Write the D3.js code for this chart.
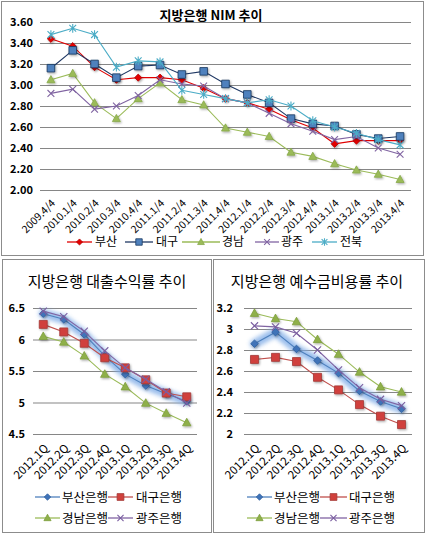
<!DOCTYPE html>
<html><head><meta charset="utf-8">
<script src="https://cdn.jsdelivr.net/npm/d3@7"></script>
<style>
body{margin:0;background:#fff;}
svg{display:block;font-family:"Noto Sans CJK KR","Noto Sans",sans-serif;}
</style></head><body>
<svg id="c" width="427" height="535"></svg>
<script>
// ---------- DATA ----------
const nimCategories = ["2009.4/4","2010.1/4","2010.2/4","2010.3/4","2010.4/4","2011.1/4","2011.2/4","2011.3/4","2011.4/4","2012.1/4","2012.2/4","2012.3/4","2012.4/4","2013.1/4","2013.2/4","2013.3/4","2013.4/4"];
const nimYTicks = [2.0,2.2,2.4,2.6,2.8,3.0,3.2,3.4,3.6];
const nimSeriesNames = ["부산","대구","경남","광주","전북"];
const nimBusan     = [3.44,3.37,3.17,3.05,3.07,3.07,3.05,2.97,2.87,2.83,2.77,2.67,2.59,2.44,2.47,2.47,2.47];
const nimDaegu     = [3.16,3.33,3.20,3.07,3.18,3.19,3.10,3.13,3.01,2.91,2.83,2.68,2.63,2.61,2.53,2.49,2.51];
const nimGyeongnam = [3.05,3.11,2.83,2.68,2.87,3.02,2.86,2.81,2.59,2.55,2.51,2.36,2.32,2.25,2.19,2.15,2.10];
const nimGwangju   = [2.92,2.96,2.77,2.80,2.90,3.05,3.01,2.99,2.87,2.83,2.73,2.63,2.56,2.48,2.51,2.40,2.34];
const nimJeonbuk   = [3.48,3.54,3.48,3.17,3.23,3.22,2.95,2.91,2.87,2.83,2.86,2.80,2.66,2.60,2.54,2.48,2.43];

const qCategories = ["2012.1Q","2012.2Q","2012.3Q","2012.4Q","2013.1Q","2013.2Q","2013.3Q","2013.4Q"];
const bankNames = ["부산은행","대구은행","경남은행","광주은행"];
const loanYTicks = [4.5,5,5.5,6,6.5];
const loanBusan     = [6.41,6.32,6.08,5.74,5.45,5.27,5.14,5.02];
const loanDaegu     = [6.24,6.12,5.94,5.71,5.55,5.36,5.15,5.09];
const loanGyeongnam = [6.05,5.96,5.74,5.45,5.25,4.99,4.83,4.68];
const loanGwangju   = [6.45,6.36,6.13,5.82,5.55,5.37,5.17,4.99];

const depYTicks = [2,2.2,2.4,2.6,2.8,3,3.2];
const depBusan     = [2.86,2.97,2.81,2.70,2.58,2.41,2.31,2.24];
const depDaegu     = [2.71,2.73,2.69,2.54,2.42,2.28,2.17,2.09];
const depGyeongnam = [3.15,3.10,3.07,2.90,2.76,2.59,2.45,2.40];
const depGwangju   = [3.03,3.02,2.96,2.80,2.61,2.44,2.33,2.27];

// ---------- SETUP ----------
const svg = d3.select("#c");
const defs = svg.append("defs");
const sh = defs.append("filter").attr("id","shadow").attr("x","-50%").attr("y","-50%").attr("width","200%").attr("height","200%");
sh.append("feDropShadow").attr("dx",1).attr("dy",1.2).attr("stdDeviation",0.8).attr("flood-color","#000").attr("flood-opacity",0.35);
const gl = defs.append("filter").attr("id","glow").attr("x","-20%").attr("y","-20%").attr("width","140%").attr("height","140%");
gl.append("feGaussianBlur").attr("stdDeviation",2.2);

// frames
svg.append("rect").attr("x",1.5).attr("y",1.5).attr("width",422).attr("height",254).attr("fill","none").attr("stroke","#8c8c8c");
svg.append("rect").attr("x",2.5).attr("y",259.5).attr("width",209).attr("height",273).attr("fill","none").attr("stroke","#8c8c8c");
svg.append("rect").attr("x",213.5).attr("y",259.5).attr("width",211).attr("height",273).attr("fill","none").attr("stroke","#8c8c8c");

function markerPath(type, s){
  if(type==="diamond") return `M0,${-s}L${s},0L0,${s}L${-s},0Z`;
  if(type==="square") return `M${-s},${-s}H${s}V${s}H${-s}Z`;
  if(type==="triangle") return `M0,${-s*1.05}L${s},${s*0.75}L${-s},${s*0.75}Z`;
  if(type==="x") return `M${-s},${-s}L${s},${s}M${-s},${s}L${s},${-s}`;
  if(type==="star") return `M${-s},${-s}L${s},${s}M${-s},${s}L${s},${-s}M0,${-s*1.3}V${s*1.3}`;
}
function drawMarker(g, type, x, y, st, s){
  const filled = (type!=="x" && type!=="star");
  g.append("path").attr("transform",`translate(${x},${y})`).attr("d",markerPath(type,s))
   .attr("fill", filled? st.fill : "none")
   .attr("stroke", st.mstroke)
   .attr("stroke-width", filled?0.8:1.1)
   .attr("filter", st.shadow? "url(#shadow)": null);
}

function drawChart(opt){
  const {cats, ticks, yDomain, xRange, yRange, series, fmt, labelFs, xLabelFs, xLabelDx, xLabelY} = opt;
  const g = svg.append("g");
  const x = d3.scaleBand().domain(cats).range(xRange);
  const y = d3.scaleLinear().domain(yDomain).range(yRange);
  const ya = g.append("g").attr("transform",`translate(${xRange[0]},0)`)
    .call(d3.axisLeft(y).tickValues(ticks).tickFormat(fmt).tickSize(-(xRange[1]-xRange[0])).tickPadding(opt.tickPad));
  ya.select(".domain").remove();
  ya.selectAll(".tick line").attr("stroke","#868686").attr("stroke-width",1.2);
  ya.selectAll(".tick text").attr("fill","#000").attr("font-size",labelFs).attr("font-weight",opt.yBold?"bold":"normal")
    .attr("font-family",'"Noto Sans CJK KR",sans-serif');
  const xa = g.append("g").attr("transform",`translate(0,${yRange[0]})`)
    .call(d3.axisBottom(x).tickSize(0).tickPadding(0));
  xa.select(".domain").remove();
  xa.selectAll(".tick text").attr("fill","#000").attr("font-size",xLabelFs).attr("font-weight",opt.xBold?"bold":"normal")
    .attr("text-anchor","end").attr("dy",0).attr("y",0)
    .attr("transform",`translate(${xLabelDx},${xLabelY}) rotate(-45)`)
    .attr("font-family",'"Noto Sans CJK KR",sans-serif');
  const cx = d => x(d) + x.bandwidth()/2;
  const line = d3.line().x((d,i)=>cx(cats[i])).y(d=>y(d));
  series.forEach(st=>{
    const sg = g.append("g");
    if(st.glow){
      sg.append("path").datum(st.values).attr("d",line).attr("fill","none")
        .attr("stroke","#7aa9e6").attr("stroke-width",9).attr("stroke-linejoin","round").attr("stroke-linecap","round")
        .attr("opacity",0.75).attr("filter","url(#glow)");
    }
    sg.append("path").datum(st.values).attr("d",line).attr("fill","none")
      .attr("stroke",st.line).attr("stroke-width",st.lw||1.1);
    st.values.forEach((v,i)=>drawMarker(sg, st.marker, cx(cats[i]), y(v), st, st.ms));
  });
  return g;
}

function legendItem(x0,x1,tx,y,st,name,fs){
  const g = svg.append("g");
  g.append("line").attr("x1",x0).attr("x2",x1).attr("y1",y).attr("y2",y).attr("stroke",st.line).attr("stroke-width",1.3);
  drawMarker(g, st.marker, (x0+x1)/2, y, Object.assign({},st,{shadow:false}), st.ms*0.85);
  g.append("text").attr("x",tx).attr("y",y).attr("dy","0.36em").attr("font-size",fs).attr("fill","#000").text(name);
}

// ---------- TOP CHART ----------
const nimStyles = [
  {values:nimBusan, line:"#e00000", fill:"#e30000", mstroke:"#b00000", marker:"diamond", ms:3.6, shadow:true},
  {values:nimDaegu, line:"#1f3864", fill:"#4f81bd", mstroke:"#17375e", marker:"square", ms:3.8, shadow:true},
  {values:nimGyeongnam, line:"#9bbb59", fill:"#9bbb59", mstroke:"#86a84a", marker:"triangle", ms:4, shadow:true},
  {values:nimGwangju, line:"#8064a2", fill:"none", mstroke:"#8064a2", marker:"x", ms:3.4},
  {values:nimJeonbuk, line:"#4bacc6", fill:"none", mstroke:"#4bacc6", marker:"star", ms:3.4},
];
drawChart({cats:nimCategories, ticks:nimYTicks, yDomain:[2,3.6], xRange:[40,411], yRange:[190,22],
  series:nimStyles, fmt:d3.format(".2f"), labelFs:11, yBold:true, xLabelFs:10.5, xBold:false, xLabelDx:5, xLabelY:14, tickPad:7});
svg.append("text").attr("x",211).attr("y",20).attr("text-anchor","middle").attr("font-size",13).attr("font-weight","bold").text("지방은행 NIM 추이");
const nimLeg = [[67,92,95],[125,153,156],[182,220,222],[255,279,281],[312,337,340]];
nimStyles.forEach((st,i)=>legendItem(nimLeg[i][0],nimLeg[i][1],nimLeg[i][2],242,st,nimSeriesNames[i],12));

// ---------- BOTTOM CHARTS ----------
function bankStyles(vals){
  return [
    {values:vals[0], line:"#4f81bd", fill:"#3f73b8", mstroke:"#2f5f9e", marker:"diamond", ms:3.8, shadow:true, glow:true},
    {values:vals[1], line:"#c0504d", fill:"#d0403c", mstroke:"#a33a37", marker:"square", ms:4, shadow:true},
    {values:vals[2], line:"#9bbb59", fill:"#8fb04a", mstroke:"#7e9e3e", marker:"triangle", ms:4.2, shadow:true},
    {values:vals[3], line:"#8064a2", fill:"none", mstroke:"#7a5ea0", marker:"x", ms:3.6},
  ];
}
const loanStyles = bankStyles([loanBusan,loanDaegu,loanGyeongnam,loanGwangju]);
drawChart({cats:qCategories, ticks:loanYTicks, yDomain:[4.5,6.5], xRange:[33,197], yRange:[434,308],
  series:loanStyles, fmt:d3.format("~g"), labelFs:11, yBold:true, xLabelFs:11.5, xBold:false, xLabelDx:6, xLabelY:15, tickPad:8});
svg.append("text").attr("x",107).attr("y",287).attr("text-anchor","middle").attr("font-size",15).text("지방은행 대출수익률 추이");
const legL = [[35,60,62],[108,133,136]];
loanStyles.forEach((st,i)=>legendItem(legL[i%2][0],legL[i%2][1],legL[i%2][2], i<2?497:518, st, bankNames[i], 12.5));

const depStyles = bankStyles([depBusan,depDaegu,depGyeongnam,depGwangju]);
drawChart({cats:qCategories, ticks:depYTicks, yDomain:[2,3.2], xRange:[244,412], yRange:[434,308],
  series:depStyles, fmt:d3.format("~g"), labelFs:11, yBold:true, xLabelFs:11.5, xBold:false, xLabelDx:6, xLabelY:15, tickPad:11});
svg.append("text").attr("x",317).attr("y",287).attr("text-anchor","middle").attr("font-size",15).text("지방은행 예수금비용률 추이");
const legR = [[247,272,274],[320,347,349]];
depStyles.forEach((st,i)=>legendItem(legR[i%2][0],legR[i%2][1],legR[i%2][2], i<2?497:518, st, bankNames[i], 12.5));
</script>
</body></html>
